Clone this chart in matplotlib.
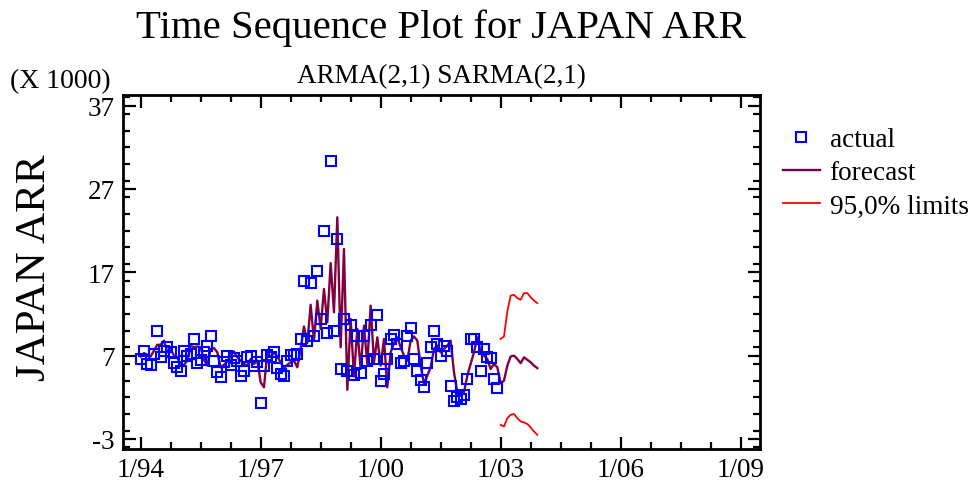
import numpy as np
import matplotlib
matplotlib.use("Agg")
import matplotlib.pyplot as plt
from matplotlib.ticker import MultipleLocator, FixedLocator, FixedFormatter

plt.rcParams['font.family'] = ['Liberation Serif', 'DejaVu Serif']
plt.rcParams['axes.unicode_minus'] = False

# monthly arrivals (thousands), 1/94 .. 12/02
actual = [6.6, 7.5, 6.0, 5.9, 7.2, 10.0, 6.8, 7.6, 8.0, 7.4, 6.1, 5.6,
          5.1, 7.6, 6.9, 7.2, 9.0, 6.1, 6.5, 7.4, 8.2, 9.3, 6.4, 5.0,
          4.4, 6.2, 6.9, 5.9, 6.7, 6.4, 4.5, 5.1, 6.8, 7.0, 5.8, 6.2,
          1.3, 5.8, 7.1, 6.8, 7.4, 5.5, 4.8, 4.5, 6.4, 7.1, 7.1, 7.2,
          9.0, 16.0, 8.8, 15.7, 9.3, 17.2, 11.4, 22.0, 9.7, 30.4, 10.0, 21.0,
          5.4, 11.4, 5.2, 10.7, 4.7, 9.3, 4.9, 9.3, 6.4, 10.7, 6.6, 11.9,
          3.9, 4.8, 6.6, 9.0, 9.5, 8.4, 6.1, 6.4, 9.3, 10.3, 6.6, 5.2,
          4.1, 3.2, 6.1, 8.0, 10.0, 8.4, 7.0, 8.2, 7.6, 3.4, 1.5, 2.0,
          1.8, 2.3, 4.2, 9.0, 9.0, 8.0, 5.2, 7.8, 6.8, 6.7, 4.2, 3.1]

# one-step forecasts 1/94 .. 12/02, then forecasts 1/03 .. 12/03
forecast = [6.9, 7.3, 7.1, 6.9, 7.6, 8.3, 8.3, 8.8, 7.4, 7.8, 7.0, 6.8,
            5.8, 5.9, 6.4, 8.2, 8.0, 8.1, 8.0, 6.5, 5.8, 7.8, 7.9, 7.4,
            5.6, 5.9, 6.3, 7.0, 7.5, 6.8, 6.4, 6.0, 5.8, 6.6, 6.0, 6.4,
            3.8, 3.2, 7.4, 6.8, 7.4, 6.9, 6.2, 5.5, 5.9, 6.2, 6.4, 5.6,
            7.8, 10.5, 8.5, 13.1, 8.8, 13.6, 10.2, 15.0, 11.0, 18.1, 12.2, 23.6,
            8.0, 19.8, 2.9, 11.4, 4.5, 10.2, 5.4, 10.6, 6.0, 13.0, 6.2, 9.2,
            5.8, 9.0, 3.2, 7.4, 8.5, 9.2, 8.0, 7.0, 6.4, 8.8, 9.3, 8.8,
            5.8, 3.6, 4.6, 5.6, 7.8, 8.2, 7.4, 7.8, 8.2, 8.8, 5.0, 2.6,
            2.2, 2.6, 4.6, 6.0, 7.4, 9.2, 7.4, 7.0, 6.6, 5.4, 6.0, 5.6,
            3.7, 4.0, 5.8, 6.9, 7.0, 6.6, 6.1, 6.8, 6.5, 6.2, 5.8, 5.5]

upper = [9.0, 9.3, 12.3, 14.2, 14.3, 13.9, 13.7, 14.5, 14.5, 14.0, 13.6, 13.3]
lower = [-1.3, -1.5, -0.5, -0.1, 0.0, -0.5, -0.9, -1.0, -1.2, -1.6, -2.1, -2.5]

year_labels = ['1/94', '1/97', '1/00', '1/03', '1/06', '1/09']

t_act = np.arange(len(actual))
t_fc = np.arange(len(forecast))
t_lim = np.arange(len(actual), len(actual) + len(upper))

W, H = 975, 489
fig = plt.figure(figsize=(W / 100, H / 100), dpi=100)
ax = fig.add_axes([123.3 / W, 1 - 450 / H, (760 - 123.3) / W, (450 - 95.7) / H])

ax.plot(t_fc, forecast, color='#800040', lw=1.7, label='forecast', zorder=2)
ax.plot(t_act, actual, ls='none', marker='s', ms=7, mfc='none', mec='#0000ff',
        mew=1.5, label='actual', zorder=3)
ax.plot(t_lim, upper, color='#ff0000', lw=1.3, label='95,0% limits')
ax.plot(t_lim, lower, color='#ff0000', lw=1.3)

ax.set_xlim(-5.2, 185.8)
ax.set_ylim(-4.2, 38.3)

ax.xaxis.set_major_locator(FixedLocator([36 * k for k in range(len(year_labels))]))
ax.xaxis.set_major_formatter(FixedFormatter(year_labels))
ax.xaxis.set_minor_locator(MultipleLocator(9))
ax.yaxis.set_major_locator(FixedLocator([-3, 7, 17, 27, 37]))
ax.yaxis.set_minor_locator(MultipleLocator(2))
ax.tick_params(which='both', direction='in', top=True, right=True, width=1.6)
ax.tick_params(which='major', length=9, labelsize=19.5, pad=6)
ax.tick_params(which='minor', length=5)
for s in ax.spines.values():
    s.set_linewidth(2)

fig.text(441 / W, 1 - 28 / H, 'Time Sequence Plot for JAPAN ARR', ha='center', va='center', fontsize=29.3)
fig.text(441 / W, 1 - 77 / H, 'ARMA(2,1) SARMA(2,1)', ha='center', va='center', fontsize=19.5)
fig.text(10 / W, 1 - 82 / H, '(X 1000)', ha='left', va='center', fontsize=20)
fig.text(35 / W, 1 - 268 / H, 'JAPAN ARR', ha='center', va='center', rotation=90, fontsize=31)

h, l = ax.get_legend_handles_labels()
order = [1, 0, 2]
fig.legend([h[i] for i in order], [l[i] for i in order], loc='upper left',
           bbox_to_anchor=(783 / W, 1 - 128 / H), frameon=False, fontsize=19.6,
           handlelength=1.35, handletextpad=0.36, labelspacing=0.3,
           borderpad=0, borderaxespad=0)

fig.savefig('out.png', dpi=100)
